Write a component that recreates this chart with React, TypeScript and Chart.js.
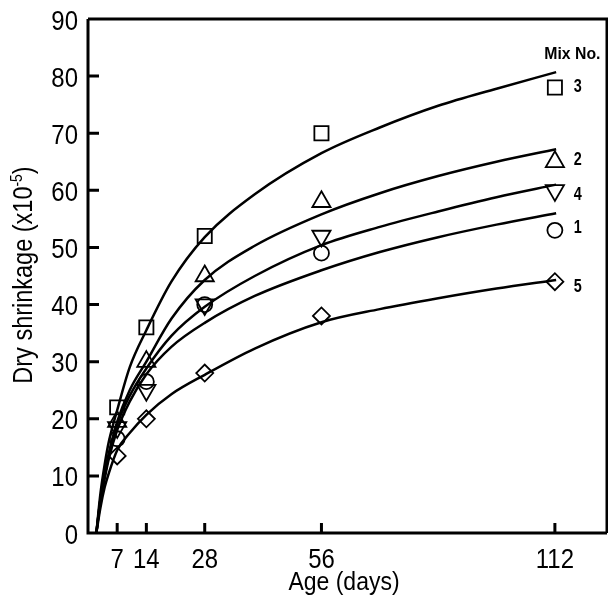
import React, { useEffect, useRef } from "react";
import { Chart, registerables } from "chart.js";

Chart.register(...registerables);

// ---- data ----
const ageTicks = [7, 14, 28, 56, 112];
const measuredDays = [7, 14, 28, 56, 112];
const mix1 = [16.5, 26.5, 40, 49, 53];
const mix2 = [19.5, 30, 45, 58, 65];
const mix3 = [22, 36, 52, 70, 78];
const mix4 = [18.5, 25, 40, 52, 60];
const mix5 = [13.5, 20, 28, 38, 44];

const curveDays = [2, 3, 4, 5, 7, 10, 14, 20, 28, 40, 56, 70, 84, 98, 112.3];
const fit1 = [0, 5.5, 9.5, 13, 18, 23, 27.8, 32.6, 36.8, 41.5, 46, 49.2, 51.8, 54, 56];
const fit2 = [0, 6, 10.5, 14, 19.5, 25, 30, 37.5, 44.3, 50.3, 55.8, 59.5, 62.5, 65, 67.2];
const fit3 = [0, 7, 12, 16, 21.5, 29, 35.5, 44, 51.8, 59.3, 66.5, 71, 74.8, 77.8, 80.7];
const fit4 = [0, 6, 10, 13.5, 19, 24, 28.8, 34.5, 39.6, 45, 50.4, 53.6, 56.3, 58.8, 61];
const fit5 = [0, 4.5, 8, 10.5, 14.5, 17.5, 20.7, 24.3, 27.7, 32.3, 36.9, 39.2, 41.1, 42.8, 44.3];

const mixLabels = ["1", "2", "3", "4", "5"];
const mixLabelValues = [53.7, 65.6, 78.4, 59.4, 43.4];
const mixLabelDay = 117.5;
const headerText = "Mix No.";
const headerDay = 116.2;
const headerValue = 84;

const xTitle = "Age (days)";
const yTitleMain = "Dry shrinkage (x10";
const yTitleSup = "-5";
const yTitleEnd = ")";

const FONT = "'Liberation Sans', Arial, sans-serif";

const markerStyles = [
  { style: "circle", r: 7.5, rot: 0 },
  { style: "triangle", r: 10.5, rot: 0 },
  { style: "rect", r: 10, rot: 0 },
  { style: "triangle", r: 10.5, rot: 180 },
  { style: "rectRot", r: 8.5, rot: 0 },
];

const mixes = [mix1, mix2, mix3, mix4, mix5];
const fits = [fit1, fit2, fit3, fit4, fit5];

function condensed(ctx: any, text: string, x: number, y: number, font: string, sx: number, align: string) {
  ctx.save();
  ctx.font = font;
  ctx.textAlign = align;
  ctx.textBaseline = "alphabetic";
  ctx.translate(x, y);
  ctx.scale(sx, 1);
  ctx.fillText(text, 0, 0);
  ctx.restore();
}

const framePlugin = {
  id: "frame",
  afterDatasetsDraw(chart: any) {
    const { ctx, chartArea: a, scales } = chart;
    const x = scales.x;
    const y = scales.y;
    ctx.save();
    ctx.strokeStyle = "#000";
    ctx.fillStyle = "#000";
    ctx.lineCap = "butt";
    ctx.lineWidth = 3;
    ctx.beginPath();
    ctx.moveTo(a.left, a.top);
    ctx.lineTo(a.left, a.bottom);
    ctx.lineTo(a.right, a.bottom);
    ctx.stroke();
    ctx.beginPath();
    ctx.moveTo(a.left, a.top);
    ctx.lineTo(a.right, a.top);
    ctx.lineTo(a.right, a.bottom);
    ctx.stroke();
    // inward ticks
    ctx.beginPath();
    y.ticks.forEach((t: any) => {
      if (t.value > y.min && t.value < y.max) {
        const py = y.getPixelForValue(t.value);
        ctx.moveTo(a.left, py);
        ctx.lineTo(a.left + 11, py);
      }
    });
    x.ticks.forEach((t: any) => {
      const px = x.getPixelForValue(t.value);
      ctx.moveTo(px, a.bottom);
      ctx.lineTo(px, a.bottom - 10);
    });
    ctx.stroke();

    // tick labels
    const tickFont = `28.5px ${FONT}`;
    y.ticks.forEach((t: any) => {
      const py = y.getPixelForValue(t.value);
      condensed(ctx, String(t.value), a.left - 10, py + 10.5, tickFont, 0.84, "right");
    });
    x.ticks.forEach((t: any) => {
      const px = x.getPixelForValue(t.value);
      condensed(ctx, String(t.value), px, 568, tickFont, 0.84, "center");
    });

    // mix labels
    condensed(ctx, headerText, x.getPixelForValue(headerDay), y.getPixelForValue(headerValue) + 6, `bold 17px ${FONT}`, 0.93, "center");
    mixLabels.forEach((lab, i) => {
      condensed(ctx, lab, x.getPixelForValue(mixLabelDay), y.getPixelForValue(mixLabelValues[i]) + 6.5, `bold 18px ${FONT}`, 0.8, "center");
    });

    // x title
    condensed(ctx, xTitle, 344, 590, `25px ${FONT}`, 0.92, "center");

    // y title (rotated, with superscript)
    ctx.save();
    ctx.translate(32, 275);
    ctx.rotate(-Math.PI / 2);
    ctx.scale(0.87, 1);
    ctx.textAlign = "left";
    ctx.textBaseline = "alphabetic";
    ctx.font = `27px ${FONT}`;
    const w1 = ctx.measureText(yTitleMain).width;
    const w3 = ctx.measureText(yTitleEnd).width;
    ctx.font = `16px ${FONT}`;
    const w2 = ctx.measureText(yTitleSup).width;
    const total = w1 + w2 + w3;
    let cx = -total / 2;
    ctx.font = `27px ${FONT}`;
    ctx.fillText(yTitleMain, cx, 0);
    cx += w1;
    ctx.font = `16px ${FONT}`;
    ctx.fillText(yTitleSup, cx, -10);
    cx += w2;
    ctx.font = `27px ${FONT}`;
    ctx.fillText(yTitleEnd, cx, 0);
    ctx.restore();

    ctx.restore();
  },
};

export default function App() {
  const ref = useRef<HTMLCanvasElement | null>(null);

  useEffect(() => {
    if (!ref.current) return;
    const datasets: any[] = [];
    fits.forEach((f) => {
      datasets.push({
        data: curveDays.map((d, i) => ({ x: d, y: f[i] })),
        showLine: true,
        borderColor: "#000",
        borderWidth: 2.5,
        pointRadius: 0,
        cubicInterpolationMode: "monotone",
        fill: false,
      });
    });
    mixes.forEach((m, k) => {
      const s = markerStyles[k];
      datasets.push({
        data: measuredDays.map((d, i) => ({ x: d, y: m[i] })),
        showLine: false,
        pointStyle: s.style,
        pointRadius: s.r,
        pointRotation: s.rot,
        pointBorderWidth: 1.8,
        pointBorderColor: "#000",
        pointBackgroundColor: "rgba(0,0,0,0)",
        borderColor: "#000",
        backgroundColor: "rgba(0,0,0,0)",
      });
    });

    const chart = new Chart(ref.current, {
      type: "scatter",
      data: { datasets },
      options: {
        responsive: false,
        animation: false,
        events: [],
        layout: { autoPadding: false, padding: { top: 19, right: 1, left: 0, bottom: 0 } },
        plugins: { legend: { display: false }, tooltip: { enabled: false } },
        scales: {
          x: {
            type: "linear",
            min: 0,
            max: 124.5,
            afterBuildTicks: (s: any) => {
              s.ticks = ageTicks.map((v) => ({ value: v }));
            },
            afterFit: (s: any) => {
              s.height = 78;
            },
            grid: { display: false, drawTicks: false },
            border: { display: false },
            ticks: { display: false },
          },
          y: {
            type: "linear",
            min: 0,
            max: 90,
            afterFit: (s: any) => {
              s.width = 88;
            },
            grid: { display: false, drawTicks: false },
            border: { display: false },
            ticks: { stepSize: 10, display: false },
          },
        },
      } as any,
      plugins: [framePlugin],
    });
    return () => chart.destroy();
  }, []);

  return (
    <div style={{ position: "absolute", left: 0, top: 0, width: 608, height: 611, background: "#fff" }}>
      <canvas ref={ref} width={608} height={611} style={{ width: 608, height: 611, display: "block" }} />
    </div>
  );
}
